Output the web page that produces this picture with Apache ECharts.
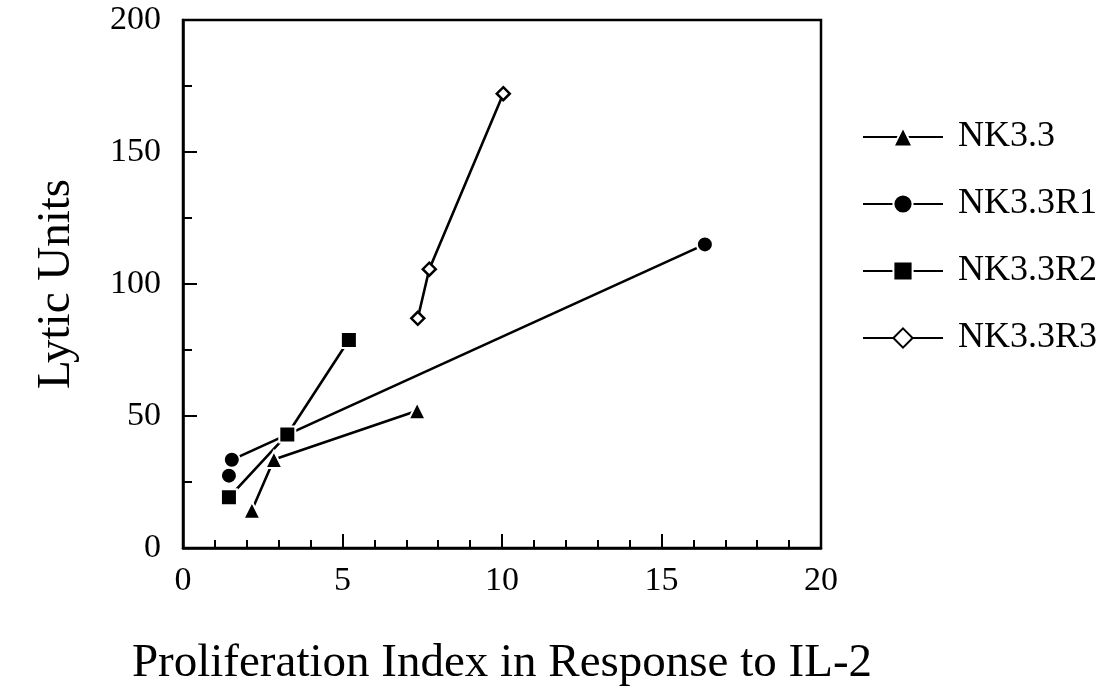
<!DOCTYPE html>
<html>
<head>
<meta charset="utf-8">
<script src="https://cdn.jsdelivr.net/npm/echarts@6/dist/echarts.min.js"></script>
<style>html,body{margin:0;padding:0;background:#fff}#c{width:1118px;height:692px}</style>
</head>
<body>
<div id="c"></div>
<script>
var seriesNames = ['NK3.3', 'NK3.3R1', 'NK3.3R2', 'NK3.3R3'];
// NK3.3 (filled triangles)
var nk33_x = [2.16, 2.85, 7.34];
var nk33_y = [14.3, 33.5, 52.0];
// NK3.3R1 (filled circles); first point is not joined by a line
var r1_x = [1.44, 1.53, 16.36];
var r1_y = [27.4, 33.4, 115.0];
// NK3.3R2 (filled squares)
var r2_x = [1.44, 3.27, 5.20];
var r2_y = [19.2, 43.0, 78.8];
// NK3.3R3 (open diamonds)
var r3_x = [7.36, 7.72, 10.04];
var r3_y = [87.0, 105.6, 172.1];

var xTicks = [0, 5, 10, 15, 20];
var yTicks = [0, 50, 100, 150, 200];

function pts(xs, ys, from, to) {
  var out = [];
  for (var i = from; i < to; i++) out.push([xs[i], ys[i]]);
  return out;
}
var FONT = 'Liberation Serif';
var blackItem = {color: '#000', borderColor: '#fff', borderWidth: 2, opacity: 1};
var lineSt = {color: '#000', width: 2.6};

var chart = echarts.init(document.getElementById('c'));
chart.setOption({
  animation: false,
  backgroundColor: '#fff',
  grid: {left: 183, top: 20, right: 297, bottom: 141, show: true, borderColor: '#000', borderWidth: 2.5},
  xAxis: {
    type: 'value', min: xTicks[0], max: xTicks[xTicks.length - 1], interval: 5,
    axisLine: {show: true, onZero: false, lineStyle: {color: '#000', width: 2.5}},
    axisTick: {show: true, inside: true, length: 14, lineStyle: {color: '#000', width: 2}},
    minorTick: {show: true, splitNumber: 5, length: 8, lineStyle: {color: '#000', width: 2}},
    splitLine: {show: false},
    axisLabel: {color: '#000', fontFamily: FONT, fontSize: 34, margin: 16},
    name: 'Proliferation Index in Response to IL-2', nameLocation: 'middle', nameGap: 92,
    nameTextStyle: {color: '#000', fontFamily: FONT, fontSize: 47}
  },
  yAxis: {
    type: 'value', min: yTicks[0], max: yTicks[yTicks.length - 1], interval: 50,
    axisLine: {show: true, onZero: false, lineStyle: {color: '#000', width: 2.5}},
    axisTick: {show: true, inside: true, length: 14, lineStyle: {color: '#000', width: 2}},
    minorTick: {show: true, splitNumber: 2, length: 9, lineStyle: {color: '#000', width: 2}},
    splitLine: {show: false},
    axisLabel: {color: '#000', fontFamily: FONT, fontSize: 34, margin: 22},
    name: 'Lytic Units', nameLocation: 'middle', nameGap: 103,
    nameTextStyle: {color: '#000', fontFamily: FONT, fontSize: 47}
  },
  legend: {
    data: seriesNames, orient: 'vertical', left: 857, top: 114, itemGap: 31,
    itemWidth: 80, itemHeight: 24,
    textStyle: {color: '#000', fontFamily: FONT, fontSize: 36, lineHeight: 36, padding: [0, 0, 0, 10]},
    selectedMode: false
  },
  series: [
    {name: 'NK3.3', type: 'line', data: pts(nk33_x, nk33_y, 0, 3), symbol: 'triangle', symbolSize: 17,
     itemStyle: blackItem, lineStyle: lineSt},
    {name: 'NK3.3R1', type: 'line', data: pts(r1_x, r1_y, 1, 3), symbol: 'circle', symbolSize: 16,
     itemStyle: blackItem, lineStyle: lineSt},
    {name: 'NK3.3R1', type: 'scatter', data: pts(r1_x, r1_y, 0, 1), symbol: 'circle', symbolSize: 16,
     itemStyle: blackItem},
    {name: 'NK3.3R2', type: 'line', data: pts(r2_x, r2_y, 0, 3), symbol: 'rect', symbolSize: 16,
     itemStyle: blackItem, lineStyle: lineSt},
    {name: 'NK3.3R3', type: 'line', data: pts(r3_x, r3_y, 0, 3), symbol: 'diamond', symbolSize: 13,
     itemStyle: {color: '#fff', borderColor: '#000', borderWidth: 2.5}, lineStyle: lineSt}
  ]
});
</script>
</body>
</html>
